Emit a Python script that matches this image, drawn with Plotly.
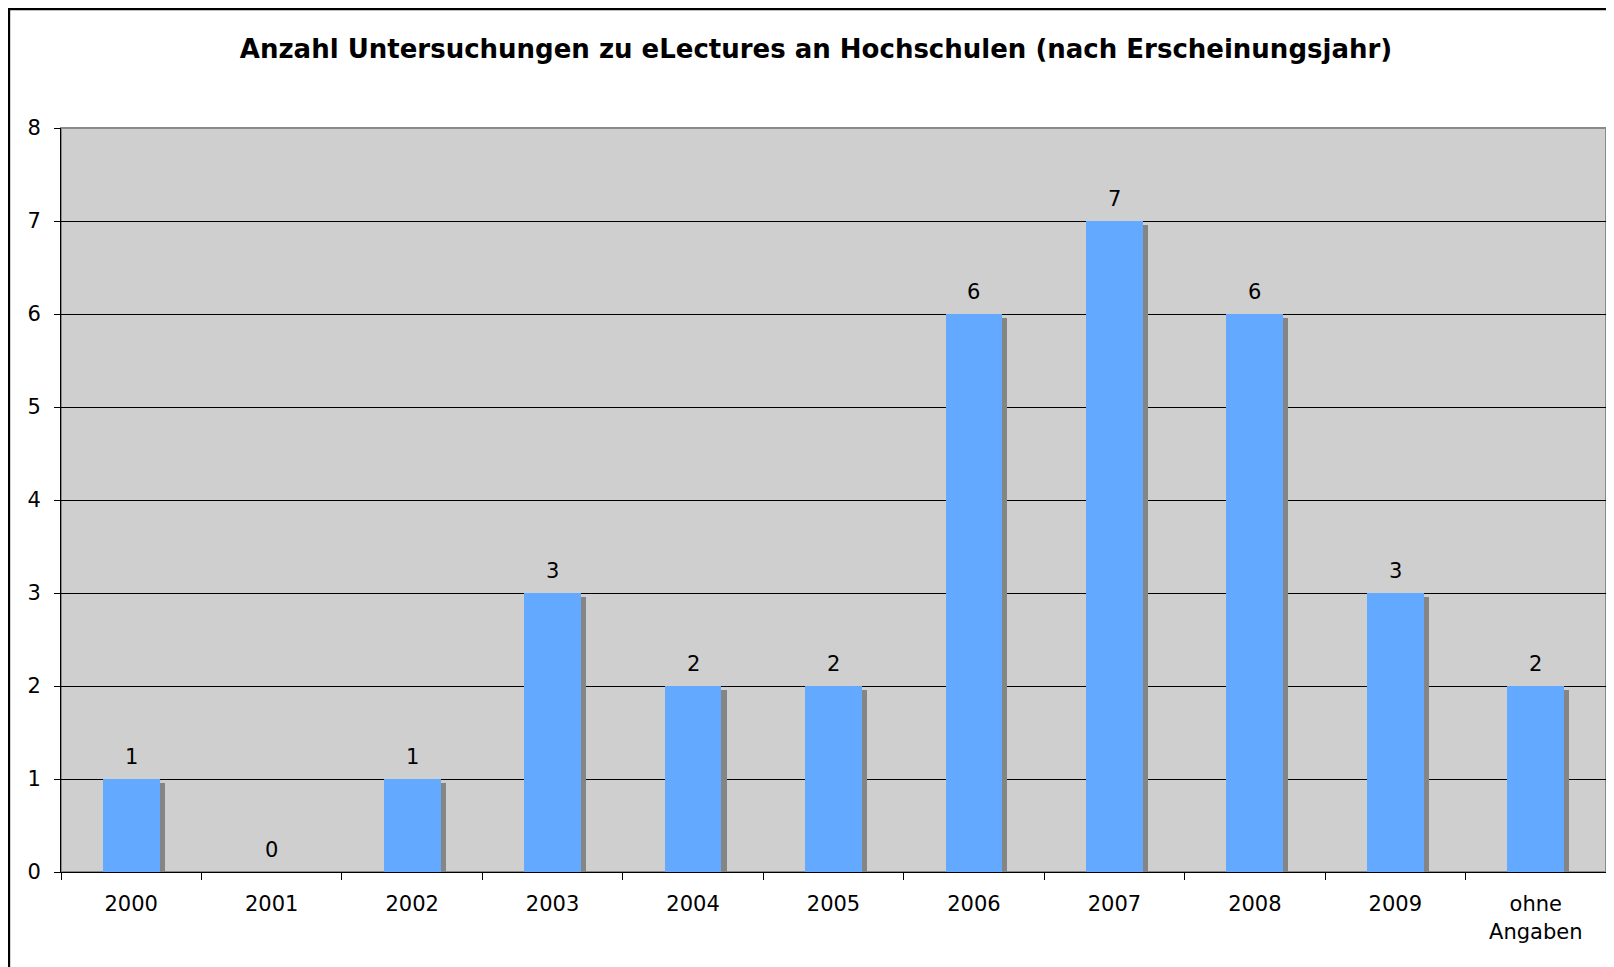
import plotly.graph_objects as go

categories = ["2000", "2001", "2002", "2003", "2004", "2005", "2006", "2007", "2008", "2009", "ohne<br>Angaben"]
values = [1, 0, 1, 3, 2, 2, 6, 7, 6, 3, 2]
title_text = "Anzahl Untersuchungen zu eLectures an Hochschulen (nach Erscheinungsjahr)"
y_ticks = [0, 1, 2, 3, 4, 5, 6, 7, 8]

FONT = "DejaVu Sans"
BAR_W = 0.405
SHADOW_DX = 0.036   # category units
SHADOW_DY = 0.045   # value units

W, H = 1606, 959   # page body has an 8px margin

fig = go.Figure()

# shadow bars
fig.add_trace(go.Bar(
    x=categories, y=[v - SHADOW_DY if v > 0 else 0 for v in values],
    width=BAR_W, offset=-BAR_W / 2 + SHADOW_DX,
    marker=dict(color="#858585", line=dict(width=0)),
    hoverinfo="skip", showlegend=False,
))
# main bars
fig.add_trace(go.Bar(
    x=categories, y=values,
    width=BAR_W, offset=-BAR_W / 2,
    marker=dict(color="#63A9FF", line=dict(width=0)),
    showlegend=False,
))

for i, v in enumerate(values):
    fig.add_annotation(x=i, y=v, xref="x", yref="y", text=str(v), showarrow=False,
                       yshift=22, font=dict(family=FONT, size=21, color="#000000"))

# plot-area border (gray) and outer figure border
fig.add_shape(type="rect", xref="paper", yref="paper", x0=0, y0=0, x1=1, y1=1,
              line=dict(color="#8A8A8A", width=2), layer="between")
fig.add_shape(type="rect", xref="paper", yref="paper", x0=-0.0337, y0=-0.2, x1=1.02, y1=1.16,
              line=dict(color="#000000", width=2.5), layer="above")

fig.update_layout(
    width=W, height=H,
    margin=dict(l=53, r=8, t=120, b=95),
    paper_bgcolor="#FFFFFF",
    plot_bgcolor="#CFCFCF",
    barmode="overlay",
    bargap=0,
    font=dict(family=FONT, size=21, color="#000000"),
    title=dict(text="<b>" + title_text + "</b>", x=808 / W, xref="container", xanchor="center",
               y=1 - 41 / H, yref="container", yanchor="middle",
               font=dict(family=FONT, size=26, color="#000000")),
    xaxis=dict(
        type="category", range=[-0.5, len(categories) - 0.5],
        showline=True, linecolor="#000000", linewidth=1,
        ticks="outside", tickson="boundaries", ticklen=7, tickcolor="#000000",
        showgrid=False, tickfont=dict(family=FONT, size=21), ticklabelstandoff=13,
        tickangle=0,
    ),
    yaxis=dict(
        range=[0, 8], tickvals=y_ticks, showline=True, linecolor="#000000", linewidth=1,
        ticks="outside", ticklen=6, tickcolor="#000000",
        showgrid=True, gridcolor="#000000", gridwidth=1, zeroline=False,
        tickfont=dict(family=FONT, size=21), ticklabelstandoff=9,
    ),
)

fig.write_html("out.html")
